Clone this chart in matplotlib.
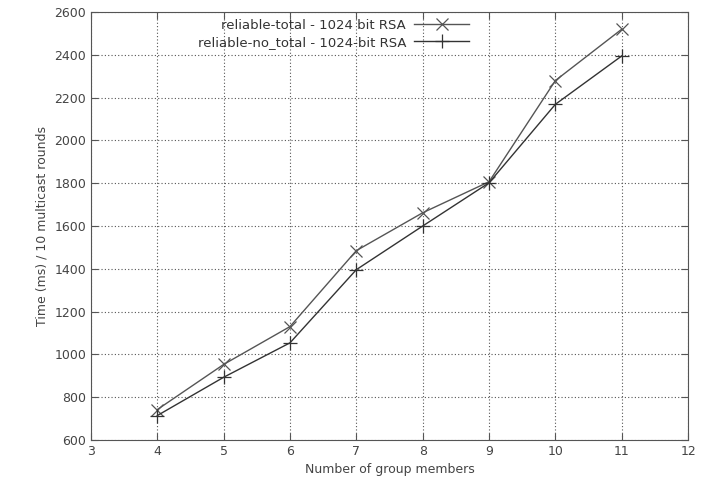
import matplotlib
matplotlib.use("Agg")
import matplotlib.pyplot as plt

members = [4, 5, 6, 7, 8, 9, 10, 11]
total_ms = [742, 953, 1130, 1485, 1662, 1807, 2280, 2520]
no_total_ms = [714, 893, 1054, 1396, 1600, 1802, 2169, 2395]

x_ticks = [3, 4, 5, 6, 7, 8, 9, 10, 11, 12]
y_ticks = [600, 800, 1000, 1200, 1400, 1600, 1800, 2000, 2200, 2400, 2600]

fig = plt.figure(figsize=(7.05, 4.84), dpi=100)
ax = fig.add_axes([0.129, 0.091, 0.847, 0.884])

ax.plot(members, total_ms, color="#555555", lw=1.0, marker="x", markersize=8,
        markeredgewidth=0.9, label="reliable-total - 1024 bit RSA")
ax.plot(members, no_total_ms, color="#333333", lw=1.0, marker="+", markersize=10,
        markeredgewidth=0.9, label="reliable-no_total - 1024-bit RSA")

ax.set_xlim(3, 12)
ax.set_ylim(600, 2600)
ax.set_xticks(x_ticks)
ax.set_yticks(y_ticks)
ax.grid(True, color="#555555", linestyle=(0, (1, 2)), linewidth=0.8)
ax.tick_params(direction="in", top=True, right=True, length=5, labelsize=9,
               labelcolor="#444444", color="#555555")
for s in ax.spines.values():
    s.set_color("#555555")

ax.set_xlabel("Number of group members", fontsize=9, color="#444444")
ax.set_ylabel("Time (ms) / 10 multicast rounds", fontsize=9, color="#444444")

ax.legend(loc="upper right", bbox_to_anchor=(0.645, 1.0), frameon=False,
          markerfirst=False, fontsize=9.5, handlelength=4.2, handletextpad=0.6,
          labelspacing=0.3, borderaxespad=0.1)
for t in ax.get_legend().get_texts():
    t.set_color("#333333")

fig.savefig("out.png", dpi=100)
